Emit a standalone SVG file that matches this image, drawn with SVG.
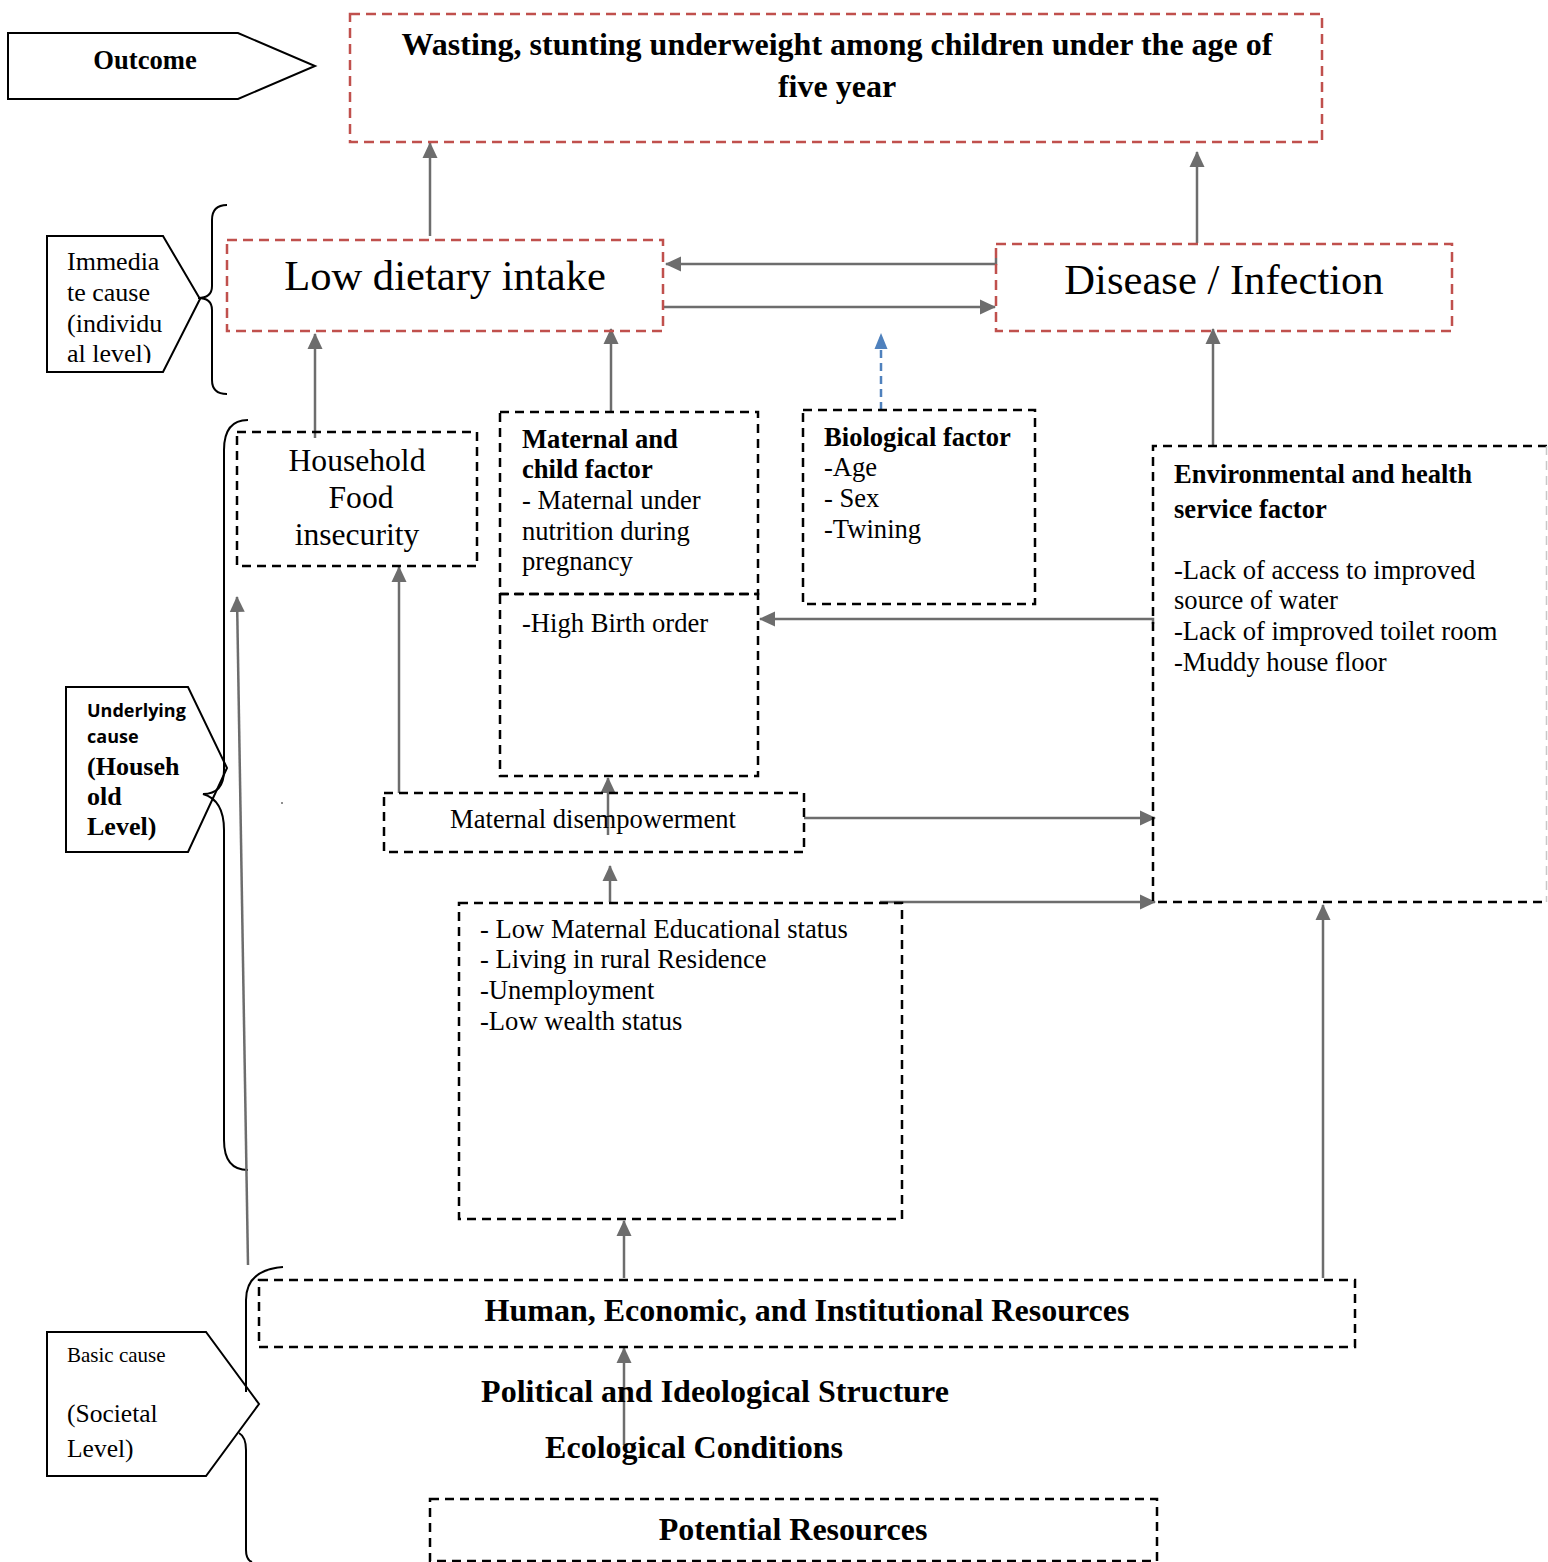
<svg xmlns="http://www.w3.org/2000/svg" width="1548" height="1562" viewBox="0 0 1548 1562">
<defs>
<marker id="ag" markerWidth="16" markerHeight="16" refX="15" refY="8" orient="auto" markerUnits="userSpaceOnUse" viewBox="0 0 16 16"><path d="M0,0.5 L16,8 L0,15.5 z" fill="#6d6d6d"/></marker>
<marker id="ab" markerWidth="16" markerHeight="16" refX="15" refY="8" orient="auto" markerUnits="userSpaceOnUse" viewBox="0 0 16 16"><path d="M0,1.5 L16,8 L0,14.5 z" fill="#4f81bd"/></marker>
<style>
text{font-family:"Liberation Serif","Times New Roman",serif;fill:#000}
.b{font-weight:bold}
.red{fill:none;stroke:#c0504d;stroke-width:2.5;stroke-dasharray:10,6}
.dash{fill:none;stroke:#000;stroke-width:2.5;stroke-dasharray:9,6}
.tag{fill:#fff;stroke:#000;stroke-width:2}
.br{fill:none;stroke:#000;stroke-width:2}
.c{fill:none;stroke:#6d6d6d;stroke-width:2.5;marker-end:url(#ag)}
.cb{fill:none;stroke:#4f81bd;stroke-width:2.5;stroke-dasharray:8,5;marker-end:url(#ab)}
</style>
</defs>
<rect width="1548" height="1562" fill="#fff"/>

<g id="levels">
<g id="outcome-tag"><path class="tag" d="M8,33 L238,33 L315,66 L238,99 L8,99 Z"/><text x="145" y="69" font-size="26.6" class="b" text-anchor="middle">Outcome</text></g>
<g id="immediate-tag"><path class="tag" d="M47,236 L163,236 L200,299 L163,372 L47,372 Z"/>
<text font-size="26"><tspan x="67" y="270">Immedia</tspan><tspan x="67" y="301">te cause</tspan><tspan x="67" y="332">(individu</tspan><tspan x="67" y="362">al level)</tspan></text>
<rect x="48" y="363" width="114" height="8" fill="#fff"/></g>
<path class="br" d="M227,205 Q212,205 212,220 L212,286 Q212,298 198,298 Q212,298 212,310 L212,380 Q212,394 227,394"/>
<g id="underlying-tag"><path class="tag" d="M66,687 L188,687 L227,768 L188,852 L66,852 Z"/>
<text x="87" y="717" font-size="18" style="font-family:'Open Sans','Noto Sans',sans-serif;font-weight:bold">Underlying</text>
<text x="87" y="743" style="font-family:'Open Sans','Noto Sans',sans-serif;font-weight:bold" font-size="18">cause</text>
<text class="b" font-size="26"><tspan x="87" y="775">(Househ</tspan><tspan x="87" y="805">old</tspan><tspan x="87" y="835">Level)</tspan></text></g>
<path class="br" d="M248,420 Q224,420 224,450 L224,770 Q224,794 203,794 Q224,800 224,830 L224,1140 Q224,1170 248,1170"/>
<g id="basic-tag"><path class="tag" d="M47,1332 L206,1332 L259,1404 L206,1476 L47,1476 Z"/>
<text x="67" y="1362" font-size="21">Basic cause</text>
<text font-size="25.5"><tspan x="67" y="1422">(Societal</tspan><tspan x="67" y="1457">Level)</tspan></text></g>
<path class="br" d="M283,1267 Q246,1270 246,1300 L246,1392"/>
<path class="br" d="M239,1433 Q246,1437 246,1450 L246,1550 Q246,1560 252,1562"/>
<circle cx="282" cy="803" r="0.8" fill="#000"/>
</g>

<g id="connectors">
<line class="c" x1="430" y1="236" x2="430" y2="143"/>
<line class="c" x1="1197" y1="243" x2="1197" y2="152"/>
<path class="c" d="M996,258 L996,264 L666,264"/>
<line class="c" x1="664" y1="307" x2="995" y2="307"/>
<line class="cb" x1="881" y1="410" x2="881" y2="334"/>
<line class="c" x1="315" y1="438" x2="315" y2="334"/>
<line class="c" x1="611" y1="412" x2="611" y2="329"/>
<line class="c" x1="1213" y1="446" x2="1213" y2="329"/>
<path class="c" d="M1153,624 L1153,619 L760,619"/>
<line class="c" x1="608" y1="835" x2="608" y2="778"/>
<line class="c" x1="399" y1="793" x2="399" y2="567"/>
<line class="c" x1="804" y1="818" x2="1155" y2="818"/>
<line class="c" x1="610" y1="902" x2="610" y2="866"/>
<line class="c" x1="880" y1="902" x2="1155" y2="902"/>
<line class="c" x1="624" y1="1278" x2="624" y2="1221"/>
<line class="c" x1="1323" y1="1278" x2="1323" y2="905"/>
<line class="c" x1="624" y1="1445" x2="624" y2="1348"/>
<line class="c" x1="248" y1="1265" x2="237" y2="597"/>
</g>

<g id="outcome"><rect class="red" x="350" y="14" width="972" height="128"/>
<text class="b" font-size="32" text-anchor="middle"><tspan x="837" y="55">Wasting, stunting underweight among children under the age of</tspan><tspan x="837" y="97">five year</tspan></text></g>
<g id="low-dietary"><rect class="red" x="227" y="240" width="436" height="91"/><text x="445" y="290" font-size="42.6" text-anchor="middle">Low dietary intake</text></g>
<g id="disease"><rect class="red" x="996" y="244" width="456" height="87"/><text x="1224" y="294" font-size="42.6" text-anchor="middle">Disease / Infection</text></g>
<g id="household-food"><rect class="dash" x="237" y="432" width="240" height="134"/>
<text font-size="31.6" text-anchor="middle"><tspan x="357" y="471">Household</tspan><tspan x="361" y="508">Food</tspan><tspan x="357" y="545">insecurity</tspan></text></g>
<g id="maternal-child"><rect class="dash" x="500" y="412" width="258" height="182"/><rect class="dash" x="500" y="594" width="258" height="182"/>
<text font-size="26.6"><tspan x="522" y="448" class="b">Maternal and</tspan><tspan x="522" y="478" class="b">child factor</tspan><tspan x="522" y="509">- Maternal under</tspan><tspan x="522" y="540">nutrition during</tspan><tspan x="522" y="570">pregnancy</tspan><tspan x="522" y="632">-High Birth order</tspan></text></g>
<g id="biological"><rect class="dash" x="803" y="410" width="232" height="194"/>
<text font-size="26.6"><tspan x="824" y="446" class="b">Biological factor</tspan><tspan x="824" y="476">-Age</tspan><tspan x="824" y="507">- Sex</tspan><tspan x="824" y="538">-Twining</tspan></text></g>
<g id="environmental"><path class="dash" d="M1547,446 L1153,446 L1153,902 L1547,902"/><line x1="1546.5" y1="446" x2="1546.5" y2="902" stroke="#c8c8c8" stroke-width="1.5" stroke-dasharray="9,6"/>
<text font-size="26.6"><tspan x="1174" y="483" class="b">Environmental and health</tspan><tspan x="1174" y="518" class="b">service factor</tspan><tspan x="1174" y="579">-Lack of access to improved</tspan><tspan x="1174" y="609">source of water</tspan><tspan x="1174" y="640">-Lack of improved toilet room</tspan><tspan x="1174" y="671">-Muddy house floor</tspan></text></g>
<g id="maternal-disempowerment"><rect class="dash" x="384" y="793" width="420" height="59"/><text x="593" y="828" font-size="26.6" text-anchor="middle">Maternal disempowerment</text></g>
<g id="socioeconomic"><rect class="dash" x="459" y="903" width="443" height="316"/>
<text font-size="26.6"><tspan x="480" y="938">- Low Maternal Educational status</tspan><tspan x="480" y="968">- Living in rural Residence</tspan><tspan x="480" y="999">-Unemployment</tspan><tspan x="480" y="1030">-Low wealth status</tspan></text></g>
<g id="human-economic"><rect class="dash" x="259" y="1280" width="1096" height="67"/><text x="807" y="1321" font-size="32" class="b" text-anchor="middle">Human, Economic, and Institutional Resources</text></g>
<g id="political"><text x="715" y="1402" font-size="32" class="b" text-anchor="middle">Political and Ideological Structure</text></g>
<g id="ecological"><text x="694" y="1458" font-size="32" class="b" text-anchor="middle">Ecological Conditions</text></g>
<g id="potential"><rect class="dash" x="430" y="1499" width="727" height="62"/><text x="793" y="1540" font-size="32" class="b" text-anchor="middle">Potential Resources</text></g>
</svg>
